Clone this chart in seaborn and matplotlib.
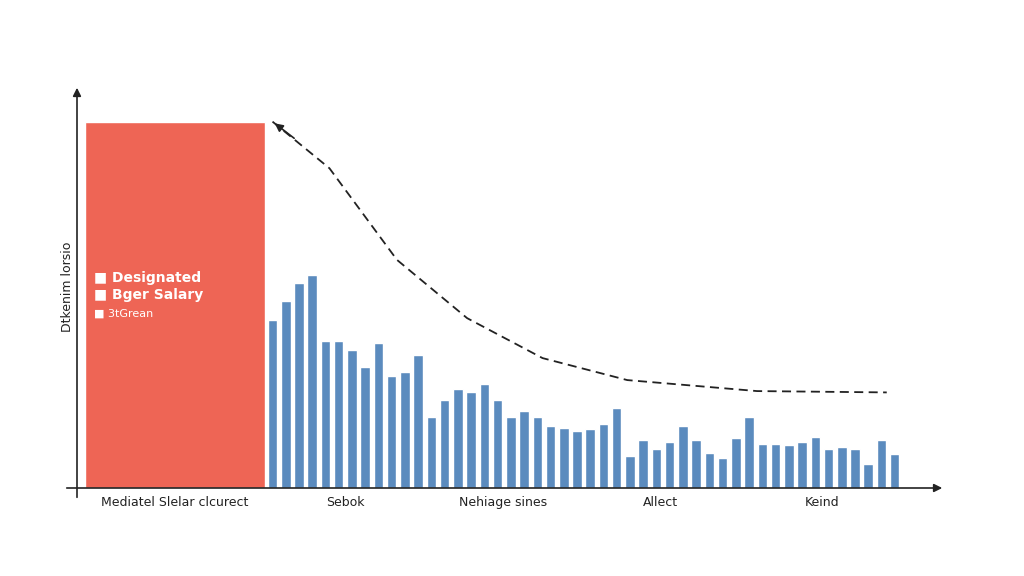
import matplotlib
matplotlib.use("Agg")
import matplotlib.pyplot as plt
import seaborn as sns
import pandas as pd
import numpy as np

sns.set_theme(style="white")
plt.rcParams['font.family'] = ['DejaVu Sans']

red_value = 110
blue_values = [50.3, 56.2, 61.5, 64.1, 44.1, 44.1, 41.5, 36.4, 43.4, 33.6, 34.7, 39.8,
               21.3, 26.5, 29.6, 28.8, 31.2, 26.3, 21.4, 23.0, 21.4, 18.5, 18.1, 17.1,
               17.8, 19.3, 24.0, 9.5, 14.3, 11.8, 13.9, 18.6, 14.3, 10.6, 9.0, 15.1,
               21.4, 13.3, 13.3, 12.8, 13.7, 15.2, 11.6, 12.3, 11.6, 7.1, 14.3, 10.3]
curve_x = [0, 4.3, 9.4, 14.7, 20.4, 26.8, 36.6, 46.4]
curve_y = [110, 96, 68.5, 51, 39, 32.4, 29.1, 28.7]
tick_pos = [-7.4, 5.5, 17.4, 29.3, 41.5]
tick_labels = ["Mediatel Slelar clcurect", "Sebok", "Nehiage sines", "Allect", "Keind"]
legend_labels = ["Designated", "Bger Salary", "3tGrean"]
ylabel = "Dtkenim lorsio"

fig = plt.figure(figsize=(10.24, 5.76), dpi=100)
ax = fig.add_axes([77/1024, 88/576, 868/1024, 403/576])

df = pd.DataFrame({"x": np.arange(len(blue_values)), "v": blue_values})
ax.bar([-7.37], [red_value], width=13.6, color="#EE6555", zorder=2)
ax.bar(df["x"], df["v"], width=0.72, color="#5B8BBE", zorder=2)
sns.lineplot(x=curve_x, y=curve_y, ax=ax, color="#222222", linestyle=(0, (5, 3)), lw=1.3)
ax.annotate("", xy=(0, 110), xytext=(1.8, 104.5),
            arrowprops=dict(arrowstyle="-|>", color="#222222", lw=1.2))

ax.set_xlim(-14.77, 50.8)
ax.set_ylim(0, 121)
for s in ["top", "right"]:
    ax.spines[s].set_visible(False)
ax.spines["left"].set_visible(False)
ax.spines["bottom"].set_visible(False)
ax.annotate("", xy=(1.0, 0), xytext=(-0.015, 0), xycoords="axes fraction",
            arrowprops=dict(arrowstyle="-|>", color="#222222", lw=1.2))
ax.annotate("", xy=(0, 1.0), xytext=(0, -0.03), xycoords="axes fraction",
            arrowprops=dict(arrowstyle="-|>", color="#222222", lw=1.2))
ax.set_yticks([])
ax.set_xticks(tick_pos)
ax.set_xticklabels(tick_labels, fontsize=9, color="#222222")
ax.tick_params(axis="x", length=0, pad=6)
ax.set_ylabel(ylabel, fontsize=9, color="#222222", labelpad=2)

ys = [63, 58, 52.5]
for i, (lab, yy) in enumerate(zip(legend_labels, ys)):
    ax.text(-13.5, yy, "\u25a0 " + lab, color="white", fontsize=10 if i < 2 else 8,
            fontweight="bold" if i < 2 else "normal", va="center")

fig.savefig("out.png", dpi=100)
